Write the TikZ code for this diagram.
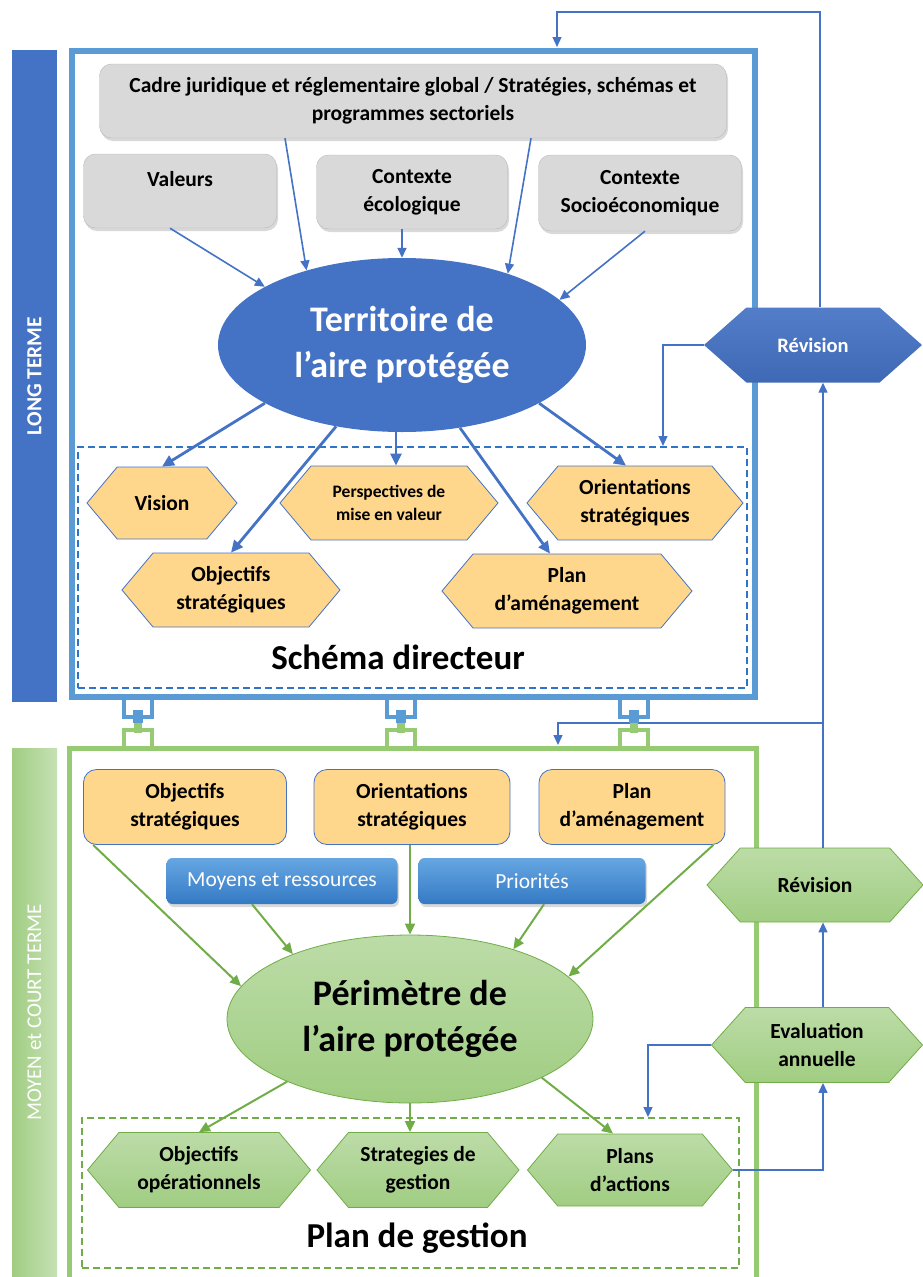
\documentclass[tikz,border=0pt]{standalone}
\usepackage{fontspec}
\setmainfont{Carlito}
\usetikzlibrary{arrows.meta,shapes.symbols,shapes.geometric,shadows,positioning}
\definecolor{dkblue}{RGB}{68,114,196}
\definecolor{frameblue}{RGB}{91,155,213}
\definecolor{dashblue}{RGB}{46,117,200}
\definecolor{boxgray}{RGB}{217,217,217}
\definecolor{boxorange}{RGB}{255,215,140}
\definecolor{btntop}{RGB}{102,166,226}
\definecolor{btnbot}{RGB}{52,122,196}
\definecolor{hexgreen}{RGB}{160,205,130}
\definecolor{dkgreen}{RGB}{112,173,71}
\definecolor{framegreen}{RGB}{150,203,115}
\begin{document}
\begin{tikzpicture}[
	x=1pt, y=-1pt,
	every node/.style={font=\fontsize{21.5}{28}\selectfont\bfseries, align=center, inner sep=2pt},
	sidebar/.style={rotate=90, minimum height=45pt, text=white, inner sep=0pt},
	graybox/.style={rectangle, rounded corners=12pt, fill=boxgray, draw=boxgray!85!black, line width=0.4pt, drop shadow={shadow xshift=1.5pt, shadow yshift=-3pt, opacity=0.3}},
	orangebox/.style={rectangle, rounded corners=13pt, fill=boxorange, draw=dkblue, line width=0.8pt},
	bluebtn/.style={rectangle, rounded corners=6pt, top color=btntop, bottom color=btnbot, text=white, font=\fontsize{21.5}{24}\selectfont, drop shadow={shadow xshift=1.5pt, shadow yshift=-3pt, opacity=0.3}},
	hexa/.style={shape=signal, signal to=west and east, signal pointer angle=100, inner sep=0pt},
	orangehex/.style={hexa, fill=boxorange, draw=dkblue, line width=0.8pt},
	greenhex/.style={hexa, top color=hexgreen!70!white, bottom color=hexgreen, draw=dkgreen, line width=0.8pt},
	bigtext/.style={font=\fontsize{36}{46}\selectfont\bfseries},
	dashbox/.style={dashed, dash pattern=on 7pt off 4pt, line width=2pt, inner sep=0pt},
	bluearrow/.style={-{Triangle[length=10pt,width=9pt]}, dkblue, line width=1.6pt},
	thickarrow/.style={-{Triangle[length=12pt,width=11pt]}, dkblue, line width=2.8pt},
	greenarrow/.style={-{Triangle[length=11pt,width=10pt]}, dkgreen, line width=2pt},
	feedback/.style={-{Triangle[length=10pt,width=9pt]}, dkblue, line width=1.3pt}
	]
	\useasboundingbox (0,0) rectangle (923,1277);
	
	% Side bars
	\node[sidebar, fill=dkblue, minimum width=652pt, font=\fontsize{21.5}{24}\selectfont\bfseries] (ltbar) at (34.5,376) {LONG TERME};
	\node[sidebar, left color=hexgreen, right color=hexgreen!60!white, minimum width=529pt, font=\fontsize{21}{24}\selectfont] (mtbar) at (34.5,1012.5) {MOYEN et COURT TERME};
	
	% Frames
	\draw[frameblue, line width=5.5pt] (72,51) rectangle (755,697);
	\draw[framegreen, line width=5pt] (69.5,1277) -- (69.5,748) -- (756,748) -- (756,1277);
	
	% Feedback coordinates
	\coordinate (topturn) at (820,12);
	\coordinate (topin) at (557,47);
	\coordinate (sdin) at (663,446);
	\coordinate (fbx) at (823,0);
	\coordinate (branch) at (823,723);
	\coordinate (grin) at (558,745);
	\coordinate (pgin) at (648,1117);
	\draw[feedback] (branch) -| (grin);
	
	% Links between the two frames
	\foreach \x in {138,401,634} {
		\draw[frameblue, line width=3.5pt] (\x-14,697) -- (\x-14,717) -- (\x+14,717) -- (\x+14,697);
		\fill[frameblue] (\x-5,710) rectangle (\x+5,723);
		\draw[framegreen, line width=3.5pt] (\x-14,748) -- (\x-14,730) -- (\x+14,730) -- (\x+14,748);
		\fill[framegreen] (\x-4,723) rectangle (\x+4,733);
	}
	
	% Long term: inputs
	\node[graybox, minimum width=627pt, minimum height=74pt] (cadre) at (413,101) {Cadre juridique et réglementaire global / Stratégies, schémas et\\programmes sectoriels};
	\node[graybox, minimum width=193pt, minimum height=74pt] (valeurs) at (180,191) {Valeurs\\[-4pt]};
	\node[graybox, minimum width=191pt, minimum height=74pt] (ecolo) at (412,192) {Contexte\\écologique};
	\node[graybox, minimum width=203pt, minimum height=76pt] (socio) at (640,193) {Contexte\\Socioéconomique};
	
	\node[ellipse, fill=dkblue, text=white, bigtext, minimum width=368pt, minimum height=174pt, inner sep=0pt] (territoire) at (402,345) {Territoire de\\l’aire protégée};
	
	% Schéma directeur
	\node[dashbox, draw=dashblue, minimum width=669pt, minimum height=241pt] (sdbox) at (412.5,567) {};
	\node[orangehex, minimum width=150pt, minimum height=72pt] (vision) at (162,503) {Vision};
	\node[orangehex, minimum width=218pt, minimum height=74pt, font=\fontsize{17.5}{23}\selectfont\bfseries] (perspectives) at (389,503) {Perspectives de\\mise en valeur};
	\node[orangehex, minimum width=216pt, minimum height=74pt] (orientS) at (635,503) {Orientations\\stratégiques};
	\node[orangehex, minimum width=218pt, minimum height=74pt] (objectifsS) at (231,590) {Objectifs\\stratégiques};
	\node[orangehex, minimum width=250pt, minimum height=74pt] (plan) at (567,591) {Plan\\d’aménagement};
	\node[font=\fontsize{35}{40}\selectfont\bfseries] (schema) at (398,657) {Schéma directeur};
	
	\draw[bluearrow] ([xshift=-10pt]valeurs.south) -- (territoire.157);
	\draw[bluearrow] ([xshift=-128pt]cadre.south) -- (territoire.142);
	\draw[bluearrow] (ecolo.south -| territoire.north) -- (territoire.north);
	\draw[bluearrow] ([xshift=118pt]cadre.south) -- (territoire.34);
	\draw[bluearrow] ([xshift=5pt]socio.south) -- (territoire.16);
	
	\draw[thickarrow] (territoire.203) -- (vision.north);
	\draw[thickarrow] (territoire.231) -- (objectifsS.north);
	\draw[thickarrow] (territoire.south -| 396,0) -- (perspectives.north -| 396,0);
	\draw[thickarrow] (territoire.305) -- ([xshift=-17pt]plan.north);
	\draw[thickarrow] (territoire.337) -- ([xshift=-9pt]orientS.north);
	
	% Révision (long term)
	\node[hexa, signal pointer angle=83, top color=dkblue!92!white, bottom color=dkblue!92!black, text=white, font=\fontsize{20.5}{24}\selectfont\bfseries, minimum width=218pt, minimum height=75pt] (revB) at (813,345) {Révision};
	
	% Moyen et court terme
	\node[orangebox, minimum width=203pt, minimum height=75pt] (objS2) at (185,807) {Objectifs\\stratégiques};
	\node[orangebox, minimum width=196pt, minimum height=75pt] (oriS2) at (412,807) {Orientations\\stratégiques};
	\node[orangebox, minimum width=186pt, minimum height=75pt] (plan2) at (632,807) {Plan\\d’aménagement};
	\node[bluebtn, minimum width=231pt, minimum height=46pt] (moyens) at (282,881) {Moyens et ressources};
	\node[bluebtn, minimum width=227pt, minimum height=46pt] (priorites) at (532,881) {Priorités};
	
	\node[ellipse, top color=hexgreen!70!white, bottom color=hexgreen, draw=dkgreen, line width=0.8pt, bigtext, minimum width=366pt, minimum height=168pt, inner sep=0pt] (perimetre) at (410,1019) {Périmètre de\\l’aire protégée};
	
	% Plan de gestion
	\node[dashbox, draw=dkgreen, minimum width=657pt, minimum height=150pt] (pgbox) at (410.5,1193) {};
	\node[greenhex, minimum width=223pt, minimum height=75pt] (objO) at (199,1170) {Objectifs\\opérationnels};
	\node[greenhex, minimum width=202pt, minimum height=75pt] (strat) at (418,1170) {Strategies de\\gestion};
	\node[greenhex, minimum width=205pt, minimum height=72pt] (plans) at (630,1170) {Plans\\d’actions};
	\node[font=\fontsize{35}{40}\selectfont\bfseries] (gestion) at (417,1238) {Plan de gestion};
	
	\draw[greenarrow] ([xshift=10pt]objS2.south west) -- (perimetre.169);
	\draw[greenarrow] ([xshift=-30pt]moyens.south) -- (perimetre.151);
	\draw[greenarrow] (oriS2.south -| perimetre.north) -- (perimetre.north);
	\draw[greenarrow] ([xshift=12pt]priorites.south) -- (perimetre.34);
	\draw[greenarrow] ([xshift=-12pt]plan2.south east) -- (perimetre.15);
	
	\draw[greenarrow] (perimetre.207) -- (objO.north);
	\draw[greenarrow] (perimetre.south) -- (perimetre.south |- strat.north);
	\draw[greenarrow] (perimetre.336) -- ([xshift=-17pt]plans.north);
	
	% Révision and évaluation (moyen terme)
	\node[greenhex, signal pointer angle=96, minimum width=216pt, minimum height=74pt] (revG) at (815,885) {Révision};
	\node[greenhex, signal pointer angle=96, minimum width=211pt, minimum height=75pt] (evalA) at (817,1045) {Evaluation\\annuelle};
	
	% Feedback loops
	\draw[feedback] (revB.north -| topturn) -- (topturn) -| (topin);
	\draw[feedback] (revB.west) -| (sdin);
	\draw[feedback] (revG.north -| fbx) -- (revB.south -| fbx);
	\draw[feedback] (evalA.north -| fbx) -- (revG.south -| fbx);
	\draw[feedback] (evalA.west) -| (pgin);
	\draw[feedback] (plans.east) -| (evalA.south -| fbx);
	
\end{tikzpicture}
\end{document}
